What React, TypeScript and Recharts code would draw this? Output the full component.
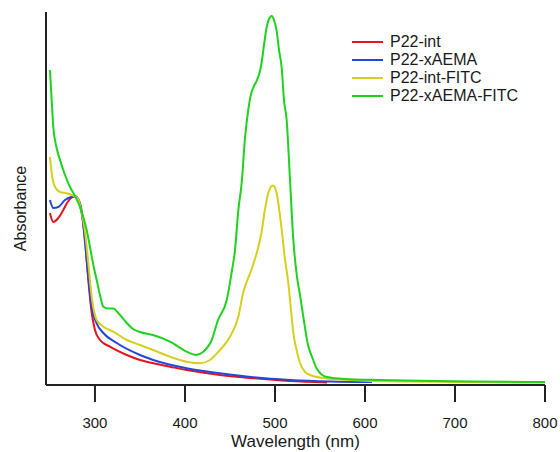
import { LineChart, Line, XAxis, YAxis, Legend } from "recharts";

// wavelength (nm) / absorbance (a.u.)
const intNm = [250, 253.7, 259.3, 264.8, 269, 274.2, 277.8, 281.5, 285.6, 289, 292.6, 296.4, 300, 305.6, 316.7, 335.3, 350.1, 364.8, 383.4, 401.9, 438.9, 476, 516.7, 557.8];
const intAbs = [1.72, 1.63, 1.67, 1.75, 1.82, 1.875, 1.885, 1.85, 1.7, 1.45, 1.05, 0.72, 0.55, 0.45, 0.383, 0.3, 0.25, 0.217, 0.183, 0.15, 0.1, 0.067, 0.04, 0.025];

const xaemaNm = [250, 253.7, 259.3, 266.7, 274.2, 277.8, 281.5, 285.6, 289, 292.6, 296.4, 301.9, 309.3, 324.2, 350.1, 364.8, 401.9, 438.9, 476, 516.7, 561.2, 607.8];
const xaemaAbs = [1.85, 1.77, 1.78, 1.85, 1.883, 1.89, 1.86, 1.72, 1.42, 1.08, 0.78, 0.617, 0.52, 0.42, 0.3, 0.25, 0.167, 0.117, 0.077, 0.05, 0.035, 0.03];

const intFitcNm = [250, 251.9, 255.6, 261.2, 268.6, 274.2, 277.8, 281.5, 285.6, 289, 292.6, 296.4, 301.9, 309.3, 320.4, 335.3, 350.1, 364.5, 383.4, 401.9, 416.7, 427.8, 438.9, 450, 459.3, 464.8, 469.4, 475.3, 480.6, 485.1, 488.4, 492.3, 497.6, 501.9, 503.7, 507.5, 511.2, 514.8, 516.7, 520.4, 524.5, 527.8, 533.4, 538.9, 553.4, 583.4, 638.9, 800];
const intFitcAbs = [2.28, 2.12, 1.98, 1.93, 1.917, 1.9, 1.885, 1.855, 1.71, 1.53, 1.22, 0.88, 0.65, 0.583, 0.533, 0.45, 0.4, 0.35, 0.283, 0.233, 0.217, 0.25, 0.35, 0.483, 0.683, 0.93, 1.05, 1.19, 1.35, 1.53, 1.73, 1.91, 1.995, 1.92, 1.82, 1.55, 1.25, 1.02, 0.85, 0.52, 0.33, 0.22, 0.13, 0.1, 0.07, 0.05, 0.035, 0.025];

const xaemaFitcNm = [250, 251.9, 253.7, 256.7, 261.2, 266.7, 272.3, 277.8, 283.4, 290.8, 294.5, 298.2, 301.9, 305.6, 309.3, 314.5, 320.4, 325.9, 335.3, 342.3, 350.1, 364.5, 383.4, 401.9, 412.3, 420, 429.7, 436.7, 446.4, 451.9, 455.6, 459.3, 463, 466.7, 470, 473.4, 476.7, 480, 483.4, 485.6, 487.8, 490.6, 493.4, 496.4, 498.9, 501.7, 504.5, 507.5, 510, 513, 516.7, 520.4, 524.2, 527.8, 531.2, 536.7, 541.2, 546.7, 557.5, 577.8, 616.7, 800];
const xaemaFitcAbs = [3.15, 2.85, 2.58, 2.4, 2.25, 2.1, 1.98, 1.89, 1.78, 1.55, 1.38, 1.2, 1.05, 0.9, 0.783, 0.765, 0.765, 0.72, 0.62, 0.56, 0.53, 0.5, 0.433, 0.333, 0.3, 0.33, 0.45, 0.65, 0.85, 1.13, 1.35, 1.75, 2.02, 2.47, 2.73, 2.91, 2.99, 3.05, 3.14, 3.25, 3.4, 3.57, 3.66, 3.69, 3.65, 3.55, 3.35, 3.17, 2.85, 2.65, 2.05, 1.45, 1.1, 0.9, 0.7, 0.4, 0.28, 0.16, 0.08, 0.06, 0.05, 0.03];

const seriesNames = ["P22-int", "P22-xAEMA", "P22-int-FITC", "P22-xAEMA-FITC"];
const seriesColors = ["#e2141c", "#2446dc", "#d6d01c", "#1ed21e"];
const xTicks = [300, 400, 500, 600, 700, 800];

const FONT = "'Liberation Sans', Arial, sans-serif";
const AXIS_COLOR = "#222";

const toPoints = (nm: number[], abs: number[]) =>
  nm.map((w, i) => ({ nm: w, abs: abs[i] }));

const series = [
  toPoints(intNm, intAbs),
  toPoints(xaemaNm, xaemaAbs),
  toPoints(intFitcNm, intFitcAbs),
  toPoints(xaemaFitcNm, xaemaFitcAbs),
];

const SpectraLegend = () => (
  <div style={{ fontFamily: FONT, fontSize: 16, color: "#1a1a1a" }}>
    {seriesNames.map((name, i) => (
      <div
        key={name}
        style={{ display: "flex", alignItems: "center", height: 18 }}
      >
        <div
          style={{
            width: 31,
            height: 2,
            background: seriesColors[i],
            marginRight: 7,
          }}
        />
        <span>{name}</span>
      </div>
    ))}
  </div>
);

const YLabel = ({ viewBox }: { viewBox?: any }) => {
  if (!viewBox) return null;
  const cx = viewBox.x + viewBox.width - 26;
  // sits a little below the middle of the axis in the original
  const cy = viewBox.y + viewBox.height / 2 + 10;
  return (
    <text
      x={cx}
      y={cy}
      transform={`rotate(-90, ${cx}, ${cy})`}
      textAnchor="middle"
      dominantBaseline="central"
      fontFamily={FONT}
      fontSize={16}
      fill="#1a1a1a"
    >
      Absorbance
    </text>
  );
};

export default function App() {
  return (
    <div style={{ position: "absolute", left: 0, top: 0, background: "#fff" }}>
      <LineChart
        width={560}
        height={452}
        margin={{ top: 12, right: 15, bottom: 0, left: 0 }}
      >
        <XAxis
          type="number"
          dataKey="nm"
          domain={[245.6, 800]}
          ticks={xTicks}
          allowDataOverflow
          height={67}
          tickSize={17}
          tickMargin={15}
          axisLine={{ stroke: AXIS_COLOR, strokeWidth: 2 }}
          tickLine={{ stroke: AXIS_COLOR, strokeWidth: 2 }}
          tick={{ fill: "#1a1a1a", fontSize: 15, fontFamily: FONT }}
          label={{
            value: "Wavelength (nm)",
            position: "insideBottom",
            offset: 5,
            fill: "#1a1a1a",
            fontSize: 17,
            fontFamily: FONT,
          }}
        />
        <YAxis
          type="number"
          domain={[0, 3.73]}
          allowDataOverflow
          width={46}
          tick={false}
          tickLine={false}
          axisLine={{ stroke: AXIS_COLOR, strokeWidth: 2 }}
          label={<YLabel />}
        />
        {/* centered + middle so the legend does not eat into the plot offset */}
        <Legend
          layout="vertical"
          verticalAlign="middle"
          align="center"
          wrapperStyle={{ top: 33, left: 352, width: 190 }}
          content={() => <SpectraLegend />}
        />
        {series.map((points, i) => (
          <Line
            key={seriesNames[i]}
            data={points}
            dataKey="abs"
            name={seriesNames[i]}
            type="monotone"
            stroke={seriesColors[i]}
            strokeWidth={2}
            dot={false}
            activeDot={false}
            isAnimationActive={false}
          />
        ))}
      </LineChart>
    </div>
  );
}
